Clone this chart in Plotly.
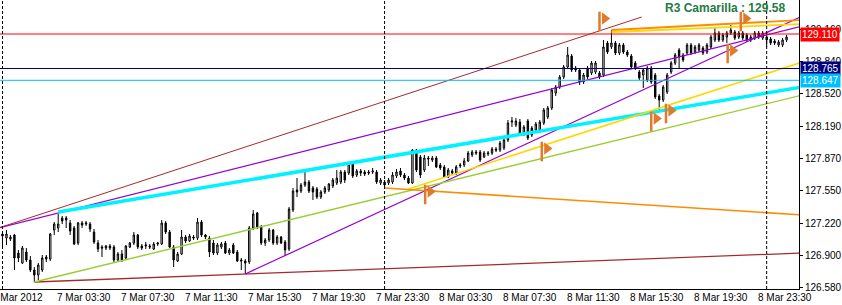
import plotly.graph_objects as go

# ---- data (15-minute bars, index 0 = 7 Mar 2012 00:00) ----
bar_open = [
    127.11, 127.07, 127.06, 127.10, 126.92, 126.82, 126.93, 126.85, 126.75, 126.70,
    126.75, 126.88, 126.86, 127.15, 127.17, 127.27, 127.27, 127.22, 127.17, 127.02,
    127.22, 127.21, 127.21, 127.13, 127.02, 126.98, 126.97, 126.99, 126.98, 126.85,
    126.91, 126.87, 126.98, 127.02, 127.10, 126.99, 126.99, 126.99, 126.96, 127.01,
    127.01, 127.22, 127.13, 126.98, 126.84, 126.91, 127.08, 127.04, 127.08, 127.07,
    127.23, 127.10, 127.07, 127.02, 126.92, 126.98, 127.02, 126.92, 127.00, 126.93,
    126.85, 126.84, 126.83, 127.17, 127.32, 127.18, 127.02, 127.05, 127.15, 127.02,
    127.08, 127.03, 126.96, 127.35, 127.55, 127.54, 127.60, 127.63, 127.57, 127.56,
    127.48, 127.53, 127.55, 127.59, 127.62, 127.63, 127.73, 127.72, 127.81, 127.70,
    127.74, 127.73, 127.73, 127.73, 127.73, 127.62, 127.63, 127.62, 127.63, 127.69,
    127.74, 127.70, 127.67, 127.62, 127.95, 127.88, 127.75, 127.87, 127.85, 127.87,
    127.80, 127.78, 127.68, 127.74, 127.72, 127.79, 127.80, 127.84, 127.90, 127.93,
    127.93, 127.88, 127.91, 127.92, 127.96, 127.95, 127.97, 128.05, 128.23, 128.20,
    128.23, 128.11, 128.24, 128.17, 128.15, 128.15, 128.22, 128.28, 128.37, 128.52,
    128.58, 128.68, 128.78, 128.89, 128.77, 128.75, 128.63, 128.77, 128.72, 128.73,
    128.72, 128.70, 129.02, 128.98, 129.02, 128.92, 129.00, 128.93, 128.89, 128.82,
    128.73, 128.70, 128.65, 128.77, 128.70, 128.49, 128.45, 128.53, 128.73, 128.82,
    128.95, 128.90, 128.92, 129.00, 128.93, 128.95, 128.97, 128.93, 128.98, 129.05,
    129.12, 129.05, 129.08, 129.12, 129.13, 129.08, 129.12, 129.10, 129.08, 129.07,
    129.12, 129.07, 129.08, 129.06, 129.04, 129.00, 129.00, 129.05,
]
bar_high = [
    127.13, 127.15, 127.10, 127.11, 126.95, 126.99, 126.97, 126.89, 126.78, 126.82,
    126.90, 126.90, 127.12, 127.23, 127.31, 127.29, 127.29, 127.25, 127.19, 127.23,
    127.24, 127.24, 127.23, 127.16, 127.05, 127.00, 127.00, 127.01, 127.00, 126.93,
    126.95, 127.00, 127.03, 127.13, 127.11, 127.01, 127.03, 127.01, 127.03, 127.03,
    127.25, 127.24, 127.15, 127.00, 126.93, 127.15, 127.10, 127.11, 127.10, 127.27,
    127.25, 127.11, 127.09, 127.05, 127.02, 127.03, 127.04, 126.97, 127.02, 126.95,
    126.87, 126.86, 127.19, 127.35, 127.33, 127.20, 127.07, 127.17, 127.16, 127.10,
    127.09, 127.05, 127.38, 127.57, 127.67, 127.62, 127.74, 127.65, 127.59, 127.58,
    127.55, 127.59, 127.62, 127.67, 127.75, 127.75, 127.75, 127.83, 127.83, 127.76,
    127.76, 127.75, 127.75, 127.77, 127.75, 127.67, 127.65, 127.67, 127.73, 127.76,
    127.77, 127.72, 127.69, 127.96, 127.96, 127.90, 127.90, 127.89, 127.89, 127.89,
    127.82, 127.80, 127.77, 127.76, 127.80, 127.82, 127.87, 127.94, 127.95, 127.95,
    127.95, 127.94, 127.94, 127.98, 127.98, 128.04, 128.07, 128.25, 128.28, 128.27,
    128.26, 128.20, 128.26, 128.19, 128.23, 128.25, 128.37, 128.39, 128.57, 128.60,
    128.70, 128.80, 128.98, 128.91, 128.79, 128.77, 128.72, 128.79, 128.84, 128.84,
    128.74, 129.05, 129.04, 129.15, 129.04, 129.02, 129.02, 128.95, 128.91, 128.84,
    128.75, 128.77, 128.79, 128.79, 128.72, 128.51, 128.60, 128.72, 128.84, 128.92,
    128.97, 128.92, 129.02, 129.02, 129.00, 129.02, 128.99, 129.02, 129.10, 129.18,
    129.14, 129.12, 129.14, 129.20, 129.15, 129.14, 129.14, 129.12, 129.10, 129.14,
    129.14, 129.14, 129.12, 129.08, 129.06, 129.05, 129.07, 129.10,
]
bar_low = [
    126.98, 127.00, 127.04, 126.75, 126.83, 126.81, 126.83, 126.73, 126.63, 126.65,
    126.73, 126.83, 126.84, 127.10, 127.13, 127.21, 127.17, 127.10, 127.00, 127.00,
    127.17, 127.19, 127.13, 127.01, 126.93, 126.88, 126.95, 126.95, 126.83, 126.84,
    126.83, 126.85, 126.97, 127.00, 126.96, 126.95, 126.96, 126.96, 126.95, 126.99,
    127.00, 127.11, 126.97, 126.78, 126.83, 126.90, 127.02, 127.03, 127.05, 127.05,
    127.08, 127.06, 126.88, 126.90, 126.90, 126.96, 126.91, 126.90, 126.91, 126.83,
    126.75, 126.71, 126.81, 127.15, 127.16, 127.00, 126.99, 127.03, 127.00, 127.00,
    127.01, 126.89, 126.94, 127.33, 127.48, 127.52, 127.58, 127.52, 127.45, 127.46,
    127.46, 127.51, 127.53, 127.57, 127.60, 127.61, 127.62, 127.70, 127.67, 127.68,
    127.69, 127.69, 127.70, 127.71, 127.61, 127.60, 127.58, 127.60, 127.61, 127.67,
    127.68, 127.65, 127.61, 127.61, 127.73, 127.67, 127.73, 127.79, 127.83, 127.77,
    127.75, 127.67, 127.67, 127.70, 127.70, 127.77, 127.78, 127.83, 127.88, 127.90,
    127.83, 127.87, 127.89, 127.90, 127.93, 127.93, 127.95, 128.03, 128.18, 128.18,
    128.09, 128.09, 128.05, 128.08, 128.13, 128.13, 128.20, 128.26, 128.35, 128.49,
    128.56, 128.66, 128.76, 128.73, 128.73, 128.60, 128.61, 128.66, 128.70, 128.71,
    128.66, 128.68, 128.91, 128.96, 128.90, 128.90, 128.91, 128.88, 128.76, 128.75,
    128.65, 128.57, 128.63, 128.61, 128.46, 128.33, 128.43, 128.51, 128.71, 128.80,
    128.77, 128.83, 128.90, 128.90, 128.91, 128.93, 128.90, 128.91, 128.96, 129.03,
    129.03, 129.03, 129.02, 129.10, 129.05, 129.06, 129.05, 129.03, 129.03, 129.05,
    129.06, 129.05, 128.98, 129.00, 129.00, 128.98, 128.98, 129.03,
]
bar_close = [
    127.09, 127.11, 127.08, 126.87, 126.87, 126.97, 126.85, 126.75, 126.70, 126.80,
    126.87, 126.86, 127.11, 127.21, 127.21, 127.24, 127.25, 127.14, 127.01, 127.22,
    127.20, 127.22, 127.16, 127.03, 126.96, 126.97, 126.99, 126.97, 126.85, 126.91,
    126.85, 126.99, 127.02, 127.10, 126.98, 126.97, 127.00, 126.98, 127.01, 127.02,
    127.22, 127.13, 126.98, 126.85, 126.91, 127.08, 127.04, 127.09, 127.07, 127.23,
    127.10, 127.08, 126.93, 126.92, 127.00, 127.01, 126.92, 126.95, 126.92, 126.84,
    126.84, 126.82, 127.17, 127.31, 127.18, 127.02, 127.05, 127.15, 127.02, 127.08,
    127.02, 126.95, 127.36, 127.54, 127.53, 127.60, 127.63, 127.54, 127.53, 127.48,
    127.53, 127.57, 127.61, 127.65, 127.67, 127.73, 127.65, 127.81, 127.69, 127.74,
    127.72, 127.71, 127.72, 127.74, 127.63, 127.65, 127.60, 127.65, 127.70, 127.73,
    127.70, 127.67, 127.62, 127.95, 127.75, 127.70, 127.87, 127.86, 127.87, 127.78,
    127.77, 127.68, 127.75, 127.72, 127.78, 127.80, 127.84, 127.92, 127.93, 127.92,
    127.85, 127.92, 127.92, 127.96, 127.95, 128.02, 128.05, 128.22, 128.24, 128.24,
    128.11, 128.18, 128.07, 128.10, 128.21, 128.23, 128.35, 128.37, 128.55, 128.58,
    128.68, 128.78, 128.90, 128.75, 128.75, 128.63, 128.70, 128.68, 128.82, 128.82,
    128.68, 128.98, 128.93, 129.02, 128.92, 129.00, 128.93, 128.90, 128.78, 128.77,
    128.67, 128.75, 128.77, 128.63, 128.48, 128.45, 128.58, 128.70, 128.82, 128.90,
    128.88, 128.85, 129.00, 128.92, 128.98, 129.00, 128.92, 129.00, 129.08, 129.12,
    129.05, 129.10, 129.12, 129.15, 129.07, 129.12, 129.07, 129.05, 129.05, 129.12,
    129.08, 129.12, 129.05, 129.02, 129.02, 129.03, 129.05, 129.08,
]
bar_index = list(range(len(bar_close)))

# time axis labels (bar index, text)
time_tick_bars = [0, 14, 30, 46, 62, 78, 94, 110, 126, 142, 158, 174, 190]
time_tick_text = ["7 Mar 2012", "7 Mar 03:30", "7 Mar 07:30", "7 Mar 11:30", "7 Mar 15:30",
                  "7 Mar 19:30", "7 Mar 23:30", "8 Mar 03:30", "8 Mar 07:30", "8 Mar 11:30",
                  "8 Mar 15:30", "8 Mar 19:30", "8 Mar 23:30"]
day_separator_bars = [0, 96, 192]

price_ticks = [126.580, 126.900, 127.220, 127.550, 127.870, 128.190, 128.520, 128.840, 129.160]

# horizontal price levels
level_values = [129.110, 128.765, 128.647]
level_colors = ["#FF0000", "#000080", "#00BFFF"]

# trend lines: ([bar0, bar1], [price0, price1])
trend_brown_hi = ([-1, 160.6], [127.17, 129.28])
trend_brown_lo = ([8, 201], [126.63, 126.92])
trend_violet_1 = ([-1, 201], [127.17, 129.19])
trend_violet_2 = ([61, 201], [126.71, 129.29])
trend_aqua = ([14, 201], [127.33, 128.58])
trend_yellowgreen = ([8, 201], [126.63, 128.50])
trend_gold_lo = ([102, 201], [127.56, 128.83])
trend_orange_lo = ([96, 201], [127.57, 127.30])
trend_orange_hi = ([153, 201], [129.15, 129.25])
trend_gold_hi = ([153, 201], [129.13, 129.21])

# arrow objects (bar, price)
arrow_bars = [150.9, 186.4, 183.1, 107.1, 136.4, 163.9, 167.6]
arrow_prices = [129.25, 129.25, 128.93, 127.52, 127.95, 128.25, 128.33]

title_text = "R3 Camarilla : 129.58"

FONT = "Liberation Sans, Arial, sans-serif"
ARROW_COLOR = "#E07A2C"

fig = go.Figure()

fig.add_trace(go.Candlestick(
    x=bar_index, open=bar_open, high=bar_high, low=bar_low, close=bar_close,
    increasing=dict(line=dict(color="black", width=1), fillcolor="white"),
    decreasing=dict(line=dict(color="black", width=1), fillcolor="black"),
    whiskerwidth=0, hoverinfo="skip", showlegend=False,
))

def add_line(seg, color, width):
    fig.add_trace(go.Scatter(x=seg[0], y=seg[1], mode="lines",
                             line=dict(color=color, width=width),
                             hoverinfo="skip", showlegend=False))

add_line(trend_brown_hi, "#A52A2A", 1)
add_line(trend_brown_lo, "#A52A2A", 1.3)
add_line(trend_violet_1, "#9400D3", 1.2)
add_line(trend_violet_2, "#9400D3", 1.2)
add_line(trend_aqua, "#00F2FF", 3.5)
add_line(trend_yellowgreen, "#9ACD32", 1.4)
add_line(trend_gold_lo, "#FFD700", 1.6)
add_line(trend_orange_lo, "#FF8C00", 1.6)
add_line(trend_orange_hi, "#FF8C00", 1.8)
add_line(trend_gold_hi, "#FFD700", 1.8)

for v, c in zip(level_values, level_colors):
    add_line(([-1, 201], [v, v]), c, 1)

# arrow glyph: a vertical stem with a right-pointing flag
fig.add_trace(go.Scatter(x=[b - 0.9 for b in arrow_bars], y=[p - 0.015 for p in arrow_prices],
                         mode="markers",
                         marker=dict(symbol="line-ns", size=14,
                                     line=dict(width=2.5, color=ARROW_COLOR)),
                         hoverinfo="skip", showlegend=False))
fig.add_trace(go.Scatter(x=[b + 0.4 for b in arrow_bars], y=[p + 0.015 for p in arrow_prices],
                         mode="markers",
                         marker=dict(symbol="triangle-right", size=11, color=ARROW_COLOR,
                                     line=dict(width=0)),
                         hoverinfo="skip", showlegend=False))

shapes = []
for b in day_separator_bars:
    shapes.append(dict(type="line", xref="x", yref="paper", x0=b, x1=b, y0=0, y1=1,
                       line=dict(color="black", width=1, dash="3px,2px")))

annotations = []
for b, t in zip(time_tick_bars, time_tick_text):
    annotations.append(dict(x=b, xref="x", y=0, yref="paper", text=t, showarrow=False,
                            xanchor="left", yanchor="top", xshift=-12 if b == 0 else -3,
                            yshift=-1, font=dict(family=FONT, size=10, color="black")))
for v, c in zip(level_values, level_colors):
    annotations.append(dict(x=1, xref="paper", y=v, yref="y", text="%.3f" % v,
                            showarrow=False, xanchor="left", yanchor="middle", xshift=1,
                            bgcolor=c, borderpad=1,
                            font=dict(family=FONT, size=10, color="white")))
annotations.append(dict(x=666 / 803, xref="paper", y=1, yref="paper",
                        text="<b>" + title_text + "</b>",
                        showarrow=False, xanchor="left", yanchor="top", yshift=1,
                        font=dict(family=FONT, size=12, color="#257A45")))

fig.update_layout(
    width=842, height=305,
    margin=dict(l=0, r=39, t=0, b=16),
    paper_bgcolor="white", plot_bgcolor="white",
    showlegend=False, boxgap=0.5,
    shapes=shapes, annotations=annotations,
    xaxis=dict(range=[-0.625, 200.125], showgrid=False, zeroline=False,
               showticklabels=False, showline=True, linecolor="black", linewidth=1,
               rangeslider=dict(visible=False), fixedrange=True),
    yaxis=dict(side="right", range=[126.56, 129.45], tickvals=price_ticks,
               ticktext=["%.3f" % v for v in price_ticks], ticks="outside", ticklen=3,
               tickcolor="black", showline=True, linecolor="black", linewidth=1,
               showgrid=False, zeroline=False, fixedrange=True,
               tickfont=dict(family=FONT, size=10, color="black")),
)

fig.write_html("out.html")
